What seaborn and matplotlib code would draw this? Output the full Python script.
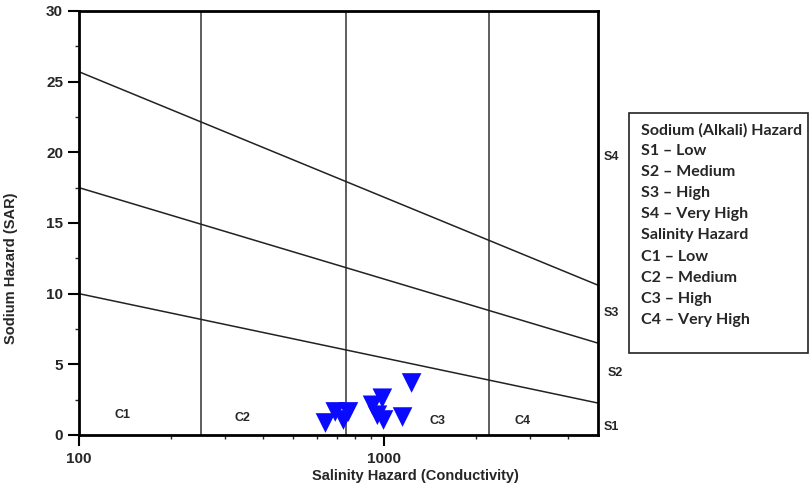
import matplotlib
matplotlib.use("Agg")
import matplotlib.pyplot as plt
from matplotlib.patches import Rectangle
from matplotlib.ticker import FixedLocator, NullFormatter
import seaborn as sns
import pandas as pd
import numpy as np

# ---- data ----
ec_values = [641, 690, 762, 734, 984, 914, 948, 993, 1146, 1227]
sar_values = [0.85, 1.63, 1.63, 1.06, 2.6, 2.1, 1.4, 1.06, 1.27, 3.68]

boundary_x = [100, 5000]
s1_s2 = [10.0, 2.26]
s2_s3 = [17.5, 6.5]
s3_s4 = [25.7, 10.6]

salinity_bounds = [250, 750, 2200]

class_labels = ["C1", "C2", "C3", "C4"]
class_x = [139, 342, 1494, 2830]
class_y = [1.4, 1.2, 1.0, 1.0]

sodium_labels = ["S4", "S3", "S2", "S1"]
sodium_y = [19.7, 8.6, 4.4, 0.6]

legend_lines = ["Sodium (Alkali) Hazard", "S1 \u2013 Low", "S2 \u2013 Medium", "S3 \u2013 High",
                "S4 \u2013 Very High", "Salinity Hazard", "C1 \u2013 Low", "C2 \u2013 Medium",
                "C3 \u2013 High", "C4 \u2013 Very High"]

# ---- plot ----
sns.set_style("ticks")
plt.rcParams['font.family'] = ['Liberation Sans', 'DejaVu Sans']

W, H = 810, 488
fig = plt.figure(figsize=(W / 100, H / 100), dpi=100)
ax = fig.add_axes([79 / W, 1 - 435 / H, (598 - 79) / W, (435 - 11) / H])
ax.set_xscale("log")

lines_df = pd.DataFrame({
    "x": boundary_x * 3,
    "y": s1_s2 + s2_s3 + s3_s4,
    "line": ["a"] * 2 + ["b"] * 2 + ["c"] * 2,
})
sns.lineplot(data=lines_df, x="x", y="y", units="line", estimator=None,
             color="#222222", linewidth=1.1, ax=ax, legend=False)

for xv in salinity_bounds:
    ax.axvline(xv, color="#333333", linewidth=1.1, zorder=1)

pts = pd.DataFrame({"ec": ec_values, "sar": sar_values})
sns.scatterplot(data=pts, x="ec", y="sar", marker="v", s=200, color="#0a0aff",
                edgecolor="none", ax=ax, zorder=5, legend=False)

ax.set_xlim(100, 5000)
ax.set_ylim(0, 30)

ax.xaxis.set_major_locator(FixedLocator([100, 1000]))
ax.xaxis.set_minor_locator(FixedLocator([200, 300, 400, 500, 600, 700, 800, 900,
                                         2000, 3000, 4000]))
ax.xaxis.set_minor_formatter(NullFormatter())
ax.set_xticklabels(["100", "1000"])
ax.set_yticks([0, 5, 10, 15, 20, 25, 30])
ax.set_yticks([2.5, 7.5, 12.5, 17.5, 22.5, 27.5], minor=True)

ax.tick_params(axis="both", which="major", labelsize=11, width=1.5, length=8,
               direction="out", color="black")
ax.tick_params(axis="x", which="major", pad=4)
ax.tick_params(axis="both", which="minor", width=1.0, length=3, direction="out")
for lab in ax.get_xticklabels() + ax.get_yticklabels():
    lab.set_fontweight("bold")

for sp in ax.spines.values():
    sp.set_linewidth(2.0)
    sp.set_color("black")
    sp.set_visible(True)

ax.set_xlabel("Salinity Hazard (Conductivity)", fontsize=10.5, fontweight="bold")
ax.set_ylabel("Sodium Hazard (SAR)", fontsize=10.5, fontweight="bold")
ax.xaxis.set_label_coords((415 - 79) / (598 - 79), -0.08)
ax.yaxis.set_label_coords(-0.118, (435 - 268) / (435 - 11))

for lab, xv, yv in zip(class_labels, class_x, class_y):
    ax.text(xv, yv, lab, fontsize=9, fontweight="bold", ha="center", va="center")

for lab, yv in zip(sodium_labels, sodium_y):
    xoff = 1.025 if lab != "S2" else 1.033
    ax.text(xoff, yv, lab, transform=ax.get_yaxis_transform(), fontsize=9,
            fontweight="bold", ha="center", va="center")

# legend box
fig.patches.append(Rectangle((629 / W, 1 - 353 / H), (808 - 629) / W, (353 - 113) / H,
                             transform=fig.transFigure, facecolor="white",
                             edgecolor="#222222", linewidth=1.2))
for i, t in enumerate(legend_lines):
    fig.text(641 / W, 1 - (130 + i * 21.1) / H, t, fontsize=11.5, fontweight="bold",
             family=["Lato", "DejaVu Sans"], ha="left", va="center")

fig.savefig("out.png", dpi=100)
